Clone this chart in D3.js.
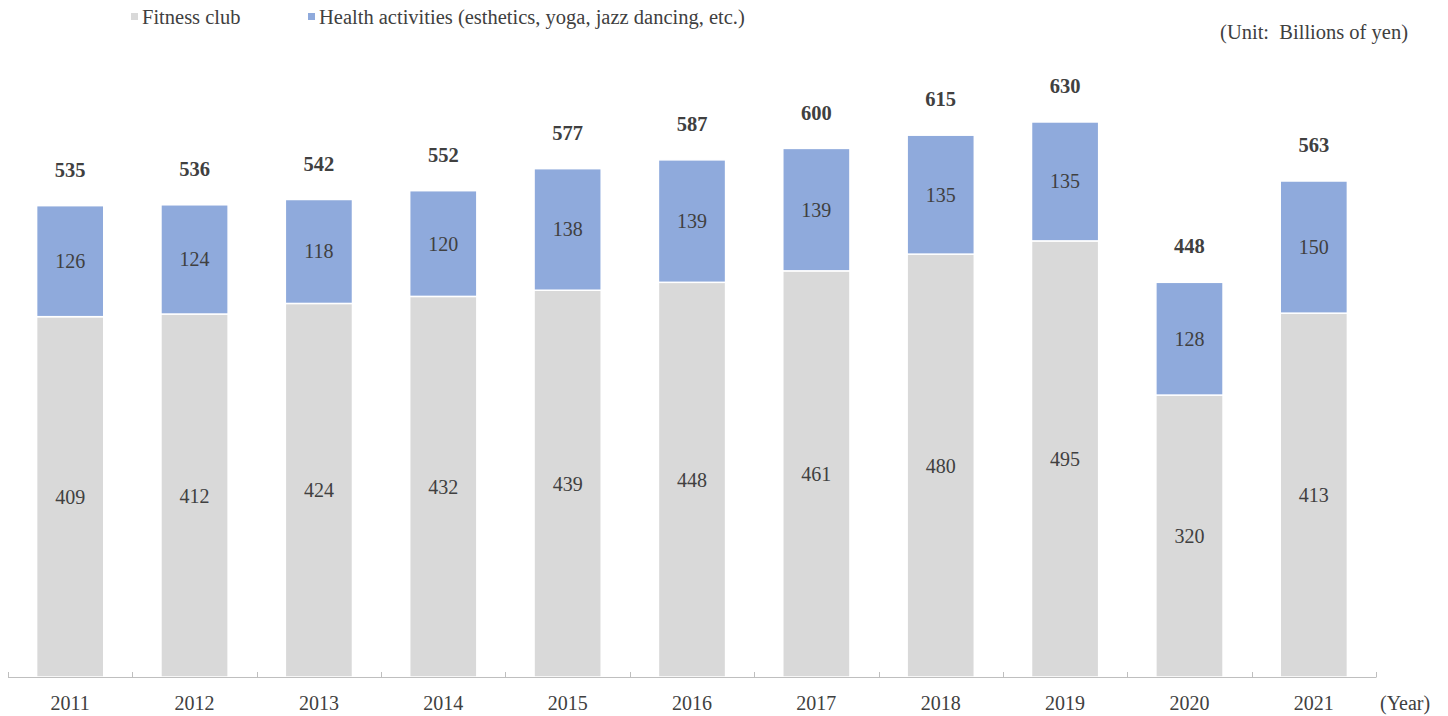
<!DOCTYPE html>
<html><head><meta charset="utf-8">
<script src="https://cdn.jsdelivr.net/npm/d3@7"></script>
<style>body{margin:0;background:#fff;} text{font-family:"Liberation Serif","Times New Roman",serif;}</style>
</head><body>
<svg id="c" width="1448" height="716"></svg>
<script>
const years = ["2011","2012","2013","2014","2015","2016","2017","2018","2019","2020","2021"];
const fitnessClub = [409,412,424,432,439,448,461,480,495,320,413];
const healthActivities = [126,124,118,120,138,139,139,135,135,128,150];
const totals = [535,536,542,552,577,587,600,615,630,448,563];
const seriesNames = ["Fitness club","Health activities (esthetics, yoga, jazz dancing, etc.)"];
const colors = ["#d9d9d9","#8faadc"];

const svg = d3.select("#c");
const x0 = 8, x1 = 1376, yBase = 677;
const x = d3.scaleBand().domain(years).range([x0,x1]).paddingInner(0.46).paddingOuter(0.23);
const y = d3.scaleLinear().domain([0,700]).range([yBase, yBase-0.881*700]);

const data = years.map((yr,i)=>({year:yr, fitness:fitnessClub[i], health:healthActivities[i], total:totals[i]}));
const stack = d3.stack().keys(["fitness","health"])(data);

const g = svg.append("g");
stack.forEach((s,si)=>{
  g.selectAll(null).data(s).enter().append("rect")
    .attr("x", d=>x(d.data.year))
    .attr("width", x.bandwidth())
    .attr("y", d=>y(d[1]))
    .attr("height", d=>y(d[0])-y(d[1]))
    .attr("fill", colors[si])
    .attr("stroke","#fff").attr("stroke-width",1.5);
  g.selectAll(null).data(s).enter().append("text")
    .attr("x", d=>x(d.data.year)+x.bandwidth()/2)
    .attr("y", d=>(y(d[0])+y(d[1]))/2)
    .attr("dy","0.35em")
    .attr("text-anchor","middle")
    .attr("font-size",20).attr("fill","#404040")
    .text(d=>d[1]-d[0]);
});
g.selectAll(null).data(data).enter().append("text")
  .attr("x", d=>x(d.year)+x.bandwidth()/2)
  .attr("y", d=>y(d.total)-36)
  .attr("dy","0.35em")
  .attr("text-anchor","middle")
  .attr("font-size",20.5).attr("font-weight","bold").attr("fill","#404040")
  .text(d=>d.total);

// axis
const axisG = svg.append("g").attr("stroke","#bfbfbf").attr("stroke-width",1);
axisG.append("line").attr("x1",x0).attr("x2",x1).attr("y1",yBase+0.5).attr("y2",yBase+0.5);
d3.range(years.length+1).forEach(i=>{
  const xx = Math.round(x0 + i*(x1-x0)/years.length)+0.5;
  axisG.append("line").attr("x1",xx).attr("x2",xx).attr("y1",yBase-5).attr("y2",yBase+0.5);
});
svg.append("g").selectAll("text").data(years).enter().append("text")
  .attr("x", d=>x(d)+x.bandwidth()/2).attr("y",703).attr("dy","0.35em")
  .attr("text-anchor","middle").attr("font-size",20).attr("fill","#404040").text(d=>d);
svg.append("text").attr("x",1380).attr("y",703).attr("dy","0.35em")
  .attr("font-size",20).attr("fill","#404040").text("(Year)");

// unit
svg.append("text").attr("x",1408).attr("y",32).attr("dy","0.35em").attr("text-anchor","end")
  .attr("font-size",20.5).attr("fill","#404040").style("white-space","pre").text("(Unit:  Billions of yen)");

// legend
const legX = [131, 308];
seriesNames.forEach((n,i)=>{
  svg.append("rect").attr("x",legX[i]).attr("y",13).attr("width",7).attr("height",7).attr("fill",colors[i]);
  svg.append("text").attr("x",legX[i]+11).attr("y",17).attr("dy","0.35em")
    .attr("font-size",20.5).attr("fill","#404040").text(n);
});
</script>
</body></html>
